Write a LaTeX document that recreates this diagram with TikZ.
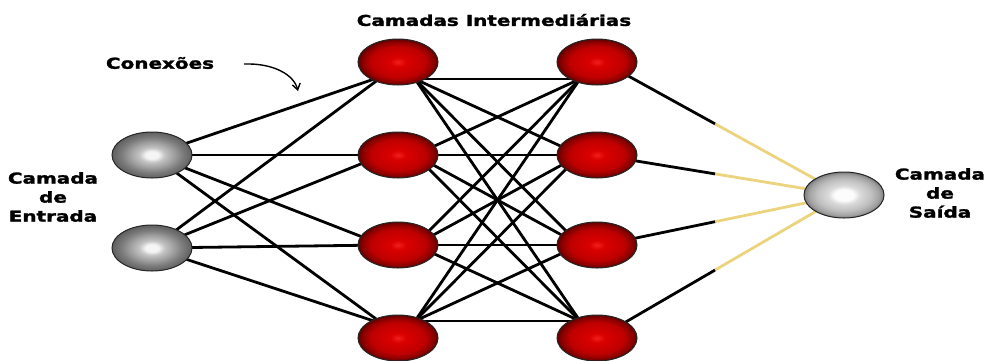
\documentclass[tikz,border=0pt]{standalone}
\usepackage{fontspec}
\setmainfont{DejaVu Sans}[BoldFont={DejaVu Sans Bold}, BoldFeatures={FakeBold=1.6}]
\usetikzlibrary{shapes.geometric,arrows.meta,calc}
\definecolor{rA}{RGB}{242,30,30}
\definecolor{rB}{RGB}{218,0,0}
\definecolor{rC}{RGB}{190,0,0}
\definecolor{rD}{RGB}{140,0,0}
\definecolor{rE}{RGB}{95,0,0}
\definecolor{gA}{RGB}{245,245,245}
\definecolor{gB}{RGB}{195,195,195}
\definecolor{gC}{RGB}{158,158,158}
\definecolor{gD}{RGB}{125,125,125}
\definecolor{gE}{RGB}{95,95,95}
\definecolor{lA}{RGB}{252,252,252}
\definecolor{lB}{RGB}{218,218,218}
\definecolor{lC}{RGB}{192,192,192}
\definecolor{lD}{RGB}{162,162,162}
\definecolor{lE}{RGB}{125,125,125}
\definecolor{wireyellow}{RGB}{235,212,125}
\pgfdeclareradialshading{redball}{\pgfpoint{0bp}{0bp}}{color(0bp)=(rA); color(5bp)=(rB); color(17bp)=(rC); color(22bp)=(rD); color(25bp)=(rE); color(50bp)=(rE)}
\pgfdeclareradialshading{grayball}{\pgfpoint{0bp}{0bp}}{color(0bp)=(gA); color(4bp)=(gA); color(8bp)=(gB); color(14bp)=(gC); color(19bp)=(gD); color(25bp)=(gE); color(50bp)=(gE)}
\pgfdeclareradialshading{lightball}{\pgfpoint{0bp}{0bp}}{color(0bp)=(lA); color(6bp)=(lA); color(10bp)=(lB); color(17bp)=(lC); color(22bp)=(lD); color(25bp)=(lE); color(50bp)=(lE)}
\pgfdeclarelayer{bg}
\pgfsetlayers{bg,main}
\begin{document}
\begin{tikzpicture}[x=1pt,y=-1pt,
  lbl/.style={font=\bfseries\fontsize{15}{19}\selectfont, xscale=1.33, align=center, inner sep=0},
  ball/.style={ellipse, minimum width=80pt, minimum height=46pt, inner sep=0, draw=black!85, line width=1pt},
  hid/.style={ball, shading=redball},
  inp/.style={ball, shading=grayball},
  outp/.style={ball, shading=lightball},
  wire/.style={line width=2.8pt, draw=black},
  ywire/.style={line width=2.8pt, draw=wireyellow}]
\useasboundingbox (0,0) rectangle (988,360);

% nodes
\node[inp] (i1) at (152,155) {};
\node[inp] (i2) at (152,248) {};
\node[hid] (h1a) at (398,62) {};
\node[hid] (h1b) at (398,155) {};
\node[hid] (h1c) at (398,245) {};
\node[hid] (h1d) at (398,338) {};
\node[hid] (h2a) at (597,62) {};
\node[hid] (h2b) at (597,155) {};
\node[hid] (h2c) at (597,245) {};
\node[hid] (h2d) at (597,338) {};
\node[outp] (o) at (844,195) {};

% ports inside the nodes
\coordinate (h1ai) at (383,76);
\coordinate (h1bi) at (383,155);
\coordinate (h1ci) at (383,245);
\coordinate (h1di) at (383,324);
\coordinate (h1ao) at (415,79);
\coordinate (h1bo) at (415,155);
\coordinate (h1co) at (415,245);
\coordinate (h1do) at (415,321);
\coordinate (h2ai) at (580,79);
\coordinate (h2bi) at (580,155);
\coordinate (h2ci) at (580,245);
\coordinate (h2di) at (580,321);
\coordinate (h2ao) at (612,67);
\coordinate (h2bo) at (612,157);
\coordinate (h2co) at (612,243);
\coordinate (h2do) at (612,330);
\coordinate (ma) at ($(h2ao)!0.444!(o)$);
\coordinate (mb) at ($(h2bo)!0.444!(o)$);
\coordinate (mc) at ($(h2co)!0.444!(o)$);
\coordinate (md) at ($(h2do)!0.444!(o)$);
\coordinate (bgA) at (0,0);
\coordinate (bgB) at (988,360);

\begin{pgfonlayer}{bg}
  \fill[white] (bgA) rectangle (bgB);
  \foreach \s in {i1,i2}
    \foreach \t in {h1ai,h1bi,h1ci,h1di}
      \draw[wire] (\s.center) -- (\t);
  \foreach \s in {h1ao,h1bo,h1co,h1do}
    \foreach \t in {h2ai,h2bi,h2ci,h2di}
      \draw[wire] (\s) -- (\t);
  \foreach \s/\m in {h2ao/ma,h2bo/mb,h2co/mc,h2do/md}{
    \draw[ywire] (\m) -- (o.center);
    \draw[wire] (\s) -- (\m);
  }
\end{pgfonlayer}

% labels
\node[lbl] (tmid) at (494,20) {Camadas Intermediárias};
\node[lbl] (tcon) at (160,63) {Conexões};
\node[lbl] (tin) at (53,197) {Camada\\de\\Entrada};
\node[lbl] (tout) at (940,193) {Camada\\de\\Saída};
\coordinate (ca) at (244,64);
\coordinate (cb) at (298,91);
\draw[line width=1.4pt, -{Straight Barb[length=6pt,width=8pt]}] (ca) .. controls (274,63) and (294,75) .. (cb);
\end{tikzpicture}
\end{document}
